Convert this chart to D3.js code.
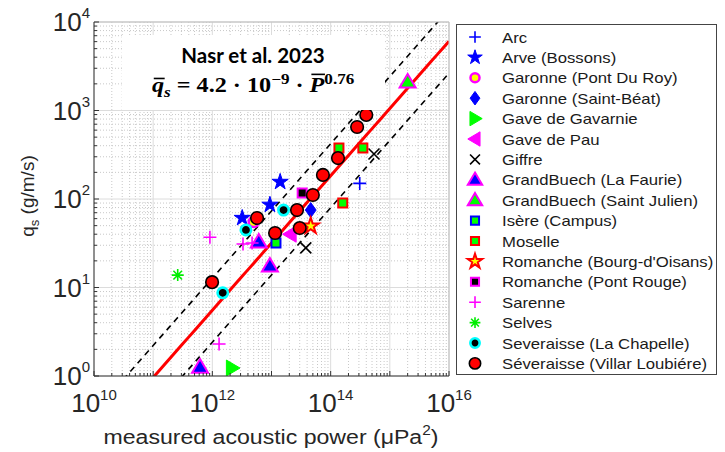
<!DOCTYPE html>
<html><head><meta charset="utf-8">
<script src="https://cdn.jsdelivr.net/npm/d3@7"></script>
<style>body{margin:0;background:#fff}svg{display:block}</style>
</head><body>
<svg id="c" width="725" height="452"></svg>
<script>
// ---------- data ----------
const xTickExps = [10, 12, 14, 16];
const yTickExps = [0, 1, 2, 3, 4];
const fitCoef = 4.2e-9, fitExp = 0.76, bandFactor = 2.3;

const seriesNames = ["Arc", "Arve (Bossons)", "Garonne (Pont Du Roy)", "Garonne (Saint-Béat)",
  "Gave de Gavarnie", "Gave de Pau", "Giffre", "GrandBuech (La Faurie)", "GrandBuech (Saint Julien)",
  "Isère (Campus)", "Moselle", "Romanche (Bourg-d'Oisans)", "Romanche (Pont Rouge)", "Sarenne",
  "Selves", "Severaisse (La Chapelle)", "Séveraisse (Villar Loubiére)"];

const arcP = [3.1e14], arcQ = [150];
const arveP = [1.4e13, 9.4e12, 3.2e12], arveQ = [156, 86, 61];
const garonnePdrP = [5.0e12], garonnePdrQ = [55];
const garonneSbP = [4.6e13], garonneSbQ = [75];
const gavarnieP = [2.15e12], gavarnieQ = [1.23];
const pauP = [2.1e13], pauQ = [40];
const giffreP = [3.8e13, 5.4e14], giffreQ = [28, 322];
const faurieP = [6.2e11, 9.4e12, 6.1e12], faurieQ = [1.26, 17.5, 32.7];
const julienP = [2.0e15], julienQ = [2100];
const isereP = [1.19e13], isereQ = [31.8];
const moselleP = [1.38e14, 3.5e14, 1.6e14], moselleQ = [377, 377, 90];
const bourgP = [4.6e13], bourgQ = [49.5];
const pontRougeP = [3.3e13], pontRougeQ = [117];
const sarenneP = [9.1e11, 1.3e12, 3.3e12, 4.7e12], sarenneQ = [37, 2.3, 31, 31.8];
const selvesP = [2.6e11], selvesQ = [13.8];
const chapelleP = [1.5e12, 3.7e12, 1.6e13], chapelleQ = [8.7, 44.7, 75];
const villarP = [9.9e11, 5.7e12, 1.15e13, 2.7e13, 3.0e13, 5.0e13, 7.4e13, 1.33e14, 2.8e14, 4.0e14];
const villarQ = [11.5, 61, 41.3, 75, 47, 111, 187, 290, 651, 890];

const seriesP = [arcP, arveP, garonnePdrP, garonneSbP, gavarnieP, pauP, giffreP, faurieP, julienP,
  isereP, moselleP, bourgP, pontRougeP, sarenneP, selvesP, chapelleP, villarP];
const seriesQ = [arcQ, arveQ, garonnePdrQ, garonneSbQ, gavarnieQ, pauQ, giffreQ, faurieQ, julienQ,
  isereQ, moselleQ, bourgQ, pontRougeQ, sarenneQ, selvesQ, chapelleQ, villarQ];

// ---------- styles ----------
const styles = [
  {m: "plus", s: 6.5, fill: "none", stroke: "#0000ff", sw: 1.6},
  {m: "star", s: 8.5, fill: "#0000ff", stroke: "#0000ff", sw: 1},
  {m: "circle", s: 5, fill: "#ffff00", stroke: "#ff00ff", sw: 2.5},
  {m: "diamond", s: 7.5, fill: "#0000ff", stroke: "#0000ff", sw: 1},
  {m: "tright", s: 8, fill: "#00ff00", stroke: "#00ff00", sw: 1},
  {m: "tleft", s: 8, fill: "#ff00ff", stroke: "#ff00ff", sw: 1},
  {m: "x", s: 5.5, fill: "none", stroke: "#000", sw: 1.6},
  {m: "tup", s: 8, fill: "#0000ff", stroke: "#ff00ff", sw: 2},
  {m: "tup", s: 8, fill: "#00ff00", stroke: "#ff00ff", sw: 2},
  {m: "square", s: 4.5, fill: "#00ff00", stroke: "#0000ff", sw: 2},
  {m: "square", s: 4.5, fill: "#00ff00", stroke: "#ff0000", sw: 2},
  {m: "star", s: 8.5, fill: "#ffff00", stroke: "#ff0000", sw: 2},
  {m: "square", s: 4.5, fill: "#000", stroke: "#ff00ff", sw: 2},
  {m: "plus", s: 6.5, fill: "none", stroke: "#ff00ff", sw: 1.6},
  {m: "aster", s: 6, fill: "none", stroke: "#00ee00", sw: 1.6},
  {m: "circle", s: 5.2, fill: "#000", stroke: "#00ffff", sw: 2.6},
  {m: "circle", s: 6.3, fill: "#ff0000", stroke: "#000", sw: 1.6}
];

function markerPath(m, s) {
  switch (m) {
    case "plus": return `M${-s},0H${s}M0,${-s}V${s}`;
    case "x": return `M${-s},${-s}L${s},${s}M${-s},${s}L${s},${-s}`;
    case "aster": { const d = s * 0.72; return `M${-s},0H${s}M0,${-s}V${s}M${-d},${-d}L${d},${d}M${-d},${d}L${d},${-d}`; }
    case "circle": return d3.symbol(d3.symbolCircle, Math.PI * s * s)();
    case "square": return `M${-s},${-s}H${s}V${s}H${-s}Z`;
    case "diamond": return `M0,${-s}L${s * 0.72},0L0,${s}L${-s * 0.72},0Z`;
    case "star": return d3.symbol(d3.symbolStar, s * s / 0.8908130915)();
    case "tup": return `M0,${-s}L${s},${s * 0.7}L${-s},${s * 0.7}Z`;
    case "tright": return `M${s},0L${-s * 0.7},${-s}L${-s * 0.7},${s}Z`;
    case "tleft": return `M${-s},0L${s * 0.7},${-s}L${s * 0.7},${s}Z`;
  }
}

// ---------- layout ----------
const svg = d3.select("#c");
const L = 94, R = 449, T = 22, B = 376;
const x = d3.scaleLog().domain([1e10, 1e16]).range([L, R]);
const y = d3.scaleLog().domain([1, 1e4]).range([B, T]);
const tickFont = "'Liberation Sans', Arial, sans-serif";

svg.append("defs").append("clipPath").attr("id", "clip")
  .append("rect").attr("x", L).attr("y", T).attr("width", R - L).attr("height", B - T);

// grid
const minorX = [], minorY = [];
for (let e = 10; e < 16; e++) for (let k = 2; k <= 9; k++) minorX.push(k * Math.pow(10, e));
for (let e = 0; e < 4; e++) for (let k = 2; k <= 9; k++) minorY.push(k * Math.pow(10, e));
const majorX = d3.range(10, 17).map(e => Math.pow(10, e));
const majorY = d3.range(0, 5).map(e => Math.pow(10, e));

const grid = svg.append("g");
grid.selectAll(".mgx").data(minorX).join("line")
  .attr("x1", d => x(d)).attr("x2", d => x(d)).attr("y1", T).attr("y2", B)
  .attr("stroke", "#c8c8c8").attr("stroke-width", 1).attr("stroke-dasharray", "1,2");
grid.selectAll(".mgy").data(minorY).join("line")
  .attr("y1", d => y(d)).attr("y2", d => y(d)).attr("x1", L).attr("x2", R)
  .attr("stroke", "#c8c8c8").attr("stroke-width", 1).attr("stroke-dasharray", "1,2");
grid.selectAll(".Mgx").data(majorX).join("line")
  .attr("x1", d => x(d)).attr("x2", d => x(d)).attr("y1", T).attr("y2", B)
  .attr("stroke", "#dcdcdc").attr("stroke-width", 1);
grid.selectAll(".Mgy").data(majorY).join("line")
  .attr("y1", d => y(d)).attr("y2", d => y(d)).attr("x1", L).attr("x2", R)
  .attr("stroke", "#dcdcdc").attr("stroke-width", 1);

// fit lines
const Pline = d3.range(0, 61).map(i => Math.pow(10, 10 + i * 0.1));
const lineGen = f => d3.line().x(d => x(d)).y(d => y(f(d)))(Pline);
const gl = svg.append("g").attr("clip-path", "url(#clip)");
gl.append("path").attr("d", lineGen(p => fitCoef * Math.pow(p, fitExp) * bandFactor))
  .attr("fill", "none").attr("stroke", "#000").attr("stroke-width", 1.6).attr("stroke-dasharray", "6,5");
gl.append("path").attr("d", lineGen(p => fitCoef * Math.pow(p, fitExp) / bandFactor))
  .attr("fill", "none").attr("stroke", "#000").attr("stroke-width", 1.6).attr("stroke-dasharray", "6,5");
gl.append("path").attr("d", lineGen(p => fitCoef * Math.pow(p, fitExp)))
  .attr("fill", "none").attr("stroke", "#ff0000").attr("stroke-width", 3);

// points
const gp = svg.append("g").attr("clip-path", "url(#clip)");
seriesP.forEach((ps, i) => {
  const st = styles[i];
  const pts = ps.map((p, j) => [p, seriesQ[i][j]]);
  gp.append("g").selectAll("path").data(pts).join("path")
    .attr("transform", d => `translate(${x(d[0])},${y(d[1])})`)
    .attr("d", markerPath(st.m, st.s))
    .attr("fill", st.fill).attr("stroke", st.stroke).attr("stroke-width", st.sw)
    .attr("stroke-linejoin", "miter");
});

// annotation box
svg.append("rect").attr("x", 122).attr("y", 35).attr("width", 263).attr("height", 75).attr("fill", "#fff");
svg.append("text").attr("x", 253).attr("y", 63).attr("text-anchor", "middle")
  .attr("font-family", "Lato, 'Open Sans', sans-serif").attr("font-weight", "bold").attr("font-size", 20.5)
  .attr("fill", "#000").text("Nasr et al. 2023");
const fs = 20.5;
const fg = svg.append("g").attr("transform", "translate(152,92) scale(1.18,1)");
const ft = fg.append("text").attr("x", 0).attr("y", 0)
  .attr("font-family", "'Liberation Serif', 'DejaVu Serif', serif").attr("font-weight", "bold")
  .attr("font-size", fs).attr("fill", "#000");
ft.append("tspan").attr("font-style", "italic").text("q");
ft.append("tspan").attr("font-style", "italic").attr("font-size", 14.5).attr("dy", 5).text("s");
ft.append("tspan").attr("dy", -5).text(" = 4.2 · 10");
ft.append("tspan").attr("font-size", 14.5).attr("dy", -8).text("−9");
ft.append("tspan").attr("dy", 8).text(" · ");
ft.append("tspan").attr("font-style", "italic").text("P");
ft.append("tspan").attr("font-size", 14.5).attr("dy", -8).text("0.76");
// overbars
const fnode = ft.node();
[[0, 0.66], [18, 0.86]].forEach(([idx, h]) => {
  const ex = fnode.getExtentOfChar(idx);
  fg.append("line").attr("x1", ex.x + 1.5).attr("x2", ex.x + ex.width + 0.5)
    .attr("y1", -h * fs).attr("y2", -h * fs)
    .attr("stroke", "#000").attr("stroke-width", 1.6);
});

// axes frame
svg.append("line").attr("x1", L).attr("x2", R).attr("y1", T).attr("y2", T).attr("stroke", "#bdbdbd");
svg.append("line").attr("x1", R).attr("x2", R).attr("y1", T).attr("y2", B).attr("stroke", "#bdbdbd");
svg.append("line").attr("x1", L).attr("x2", R).attr("y1", B).attr("y2", B).attr("stroke", "#333");
svg.append("line").attr("x1", L).attr("x2", L).attr("y1", T).attr("y2", B).attr("stroke", "#333");

// ticks
const tk = svg.append("g").attr("stroke", "#333");
tk.selectAll(".tx").data(majorX).join("line").attr("x1", d => x(d)).attr("x2", d => x(d)).attr("y1", B).attr("y2", B - 5);
tk.selectAll(".tmx").data(minorX).join("line").attr("x1", d => x(d)).attr("x2", d => x(d)).attr("y1", B).attr("y2", B - 3);
tk.selectAll(".ty").data(majorY).join("line").attr("y1", d => y(d)).attr("y2", d => y(d)).attr("x1", L).attr("x2", L + 5);
tk.selectAll(".tmy").data(minorY).join("line").attr("y1", d => y(d)).attr("y2", d => y(d)).attr("x1", L).attr("x2", L + 3);

// tick labels
xTickExps.forEach(e => {
  const t = svg.append("text").attr("x", x(Math.pow(10, e))).attr("y", 412).attr("text-anchor", "middle")
    .attr("font-family", tickFont).attr("font-size", 26).attr("fill", "#262626");
  t.append("tspan").text("10");
  t.append("tspan").attr("font-size", 15).attr("dy", -12).text(String(e));
});
yTickExps.forEach(e => {
  const t = svg.append("text").attr("x", 90).attr("y", y(Math.pow(10, e)) + 9).attr("text-anchor", "end")
    .attr("font-family", tickFont).attr("font-size", 26).attr("fill", "#262626");
  t.append("tspan").text("10");
  t.append("tspan").attr("font-size", 15).attr("dy", -13).text(String(e));
});

// axis titles
const xt = svg.append("text").attr("transform", "translate(271,444) scale(1.1,1)").attr("text-anchor", "middle")
  .attr("font-family", tickFont).attr("font-size", 21).attr("fill", "#262626");
xt.append("tspan").text("measured acoustic power (μPa");
xt.append("tspan").attr("font-size", 14).attr("dy", -9).text("2");
xt.append("tspan").attr("dy", 9).text(")");
const yt = svg.append("text").attr("transform", "translate(34,196) rotate(-90)").attr("text-anchor", "middle")
  .attr("font-family", tickFont).attr("font-size", 19).attr("fill", "#262626");
yt.append("tspan").text("q");
yt.append("tspan").attr("font-size", 13).attr("dy", 5).text("s");
yt.append("tspan").attr("dy", -5).text(" (g/m/s)");

// legend
const lg = svg.append("g");
lg.append("rect").attr("x", 456.5).attr("y", 24.5).attr("width", 260).attr("height", 350)
  .attr("fill", "#fff").attr("stroke", "#444").attr("stroke-width", 1);
seriesNames.forEach((name, i) => {
  const cy = 37 + i * 20.4;
  const st = styles[i];
  lg.append("path").attr("transform", `translate(475,${cy})`)
    .attr("d", markerPath(st.m, st.s * 0.9))
    .attr("fill", st.fill).attr("stroke", st.stroke).attr("stroke-width", st.sw);
  lg.append("text").attr("transform", `translate(502,${cy + 5.5}) scale(1.13,1)`)
    .attr("font-family", tickFont).attr("font-size", 14.8).attr("fill", "#1a1a1a").text(name);
});
</script>
</body></html>
